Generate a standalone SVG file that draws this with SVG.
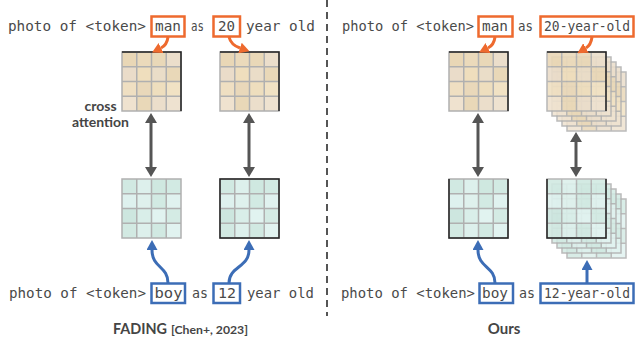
<svg xmlns="http://www.w3.org/2000/svg" xmlns:xlink="http://www.w3.org/1999/xlink" width="636" height="339" viewBox="0 0 636 339">
<style>
.mono{font-family:"DejaVu Sans Mono","Liberation Mono",monospace;font-size:14.5px;fill:#4a4a4a}
.mono2{font-family:"DejaVu Sans Mono","Liberation Mono",monospace;font-size:13.2px;fill:#4a4a4a}
.lbl{font-family:Lato,"Open Sans","Liberation Sans",sans-serif;font-weight:bold;fill:#454545}
.obox{fill:none;stroke:#EE6A2E;stroke-width:2.5}
.bbox{fill:none;stroke:#3C6DB6;stroke-width:2.5}
.oarr{fill:none;stroke:#EE6A2E;stroke-width:3}
.barr{fill:none;stroke:#3C6DB6;stroke-width:3}
.darr{fill:none;stroke:#555;stroke-width:3}
.gl{stroke:#b0b0b0;stroke-width:1.5;fill:none}
.dk{stroke:#222;stroke-width:1.5;fill:none}
</style>
<defs>
<marker id="mo" viewBox="0 0 10 11" refX="0" refY="5.5" markerWidth="10" markerHeight="11" markerUnits="userSpaceOnUse" orient="auto"><path d="M0,0 L10,5.5 L0,11 z" fill="#EE6A2E"/></marker>
<marker id="mb" viewBox="0 0 10 11" refX="0" refY="5.5" markerWidth="10" markerHeight="11" markerUnits="userSpaceOnUse" orient="auto"><path d="M0,0 L10,5.5 L0,11 z" fill="#3C6DB6"/></marker>
<marker id="md" viewBox="0 0 10 12" refX="0" refY="6" markerWidth="10" markerHeight="12" markerUnits="userSpaceOnUse" orient="auto-start-reverse"><path d="M0,0 L10,6 L0,12 z" fill="#555"/></marker>
<g id="beigeCells">
<rect x="0" y="0" width="14.75" height="14.75" fill="#E9D7B6"/><rect x="14.75" y="0" width="14.75" height="14.75" fill="#EBDABB"/><rect x="29.5" y="0" width="14.75" height="14.75" fill="#E9D8B8"/><rect x="44.25" y="0" width="14.75" height="14.75" fill="#EBDECB"/>
<rect x="0" y="14.75" width="14.75" height="14.75" fill="#EADCC9"/><rect x="14.75" y="14.75" width="14.75" height="14.75" fill="#EFDEBD"/><rect x="29.5" y="14.75" width="14.75" height="14.75" fill="#EADDC8"/><rect x="44.25" y="14.75" width="14.75" height="14.75" fill="#E9D8B8"/>
<rect x="0" y="29.5" width="14.75" height="14.75" fill="#EFDFC2"/><rect x="14.75" y="29.5" width="14.75" height="14.75" fill="#E9D8BA"/><rect x="29.5" y="29.5" width="14.75" height="14.75" fill="#EEDEBE"/><rect x="44.25" y="29.5" width="14.75" height="14.75" fill="#F1E2C4"/>
<rect x="0" y="44.25" width="14.75" height="14.75" fill="#EFE2CF"/><rect x="14.75" y="44.25" width="14.75" height="14.75" fill="#E9D8B8"/><rect x="29.5" y="44.25" width="14.75" height="14.75" fill="#EBDECB"/><rect x="44.25" y="44.25" width="14.75" height="14.75" fill="#EEE2D0"/>
</g>
<g id="mintCells">
<rect x="0" y="0" width="14.75" height="14.75" fill="#D1E9E2"/><rect x="14.75" y="0" width="14.75" height="14.75" fill="#DDF0EC"/><rect x="29.5" y="0" width="14.75" height="14.75" fill="#CFE8E0"/><rect x="44.25" y="0" width="14.75" height="14.75" fill="#D2EAE3"/>
<rect x="0" y="14.75" width="14.75" height="14.75" fill="#DEF1EE"/><rect x="14.75" y="14.75" width="14.75" height="14.75" fill="#DFF1ED"/><rect x="29.5" y="14.75" width="14.75" height="14.75" fill="#D2EAE3"/><rect x="44.25" y="14.75" width="14.75" height="14.75" fill="#E0F2EF"/>
<rect x="0" y="29.5" width="14.75" height="14.75" fill="#CDE6DF"/><rect x="14.75" y="29.5" width="14.75" height="14.75" fill="#D9EEE9"/><rect x="29.5" y="29.5" width="14.75" height="14.75" fill="#E1F3F0"/><rect x="44.25" y="29.5" width="14.75" height="14.75" fill="#D4EBE4"/>
<rect x="0" y="44.25" width="14.75" height="14.75" fill="#D2E9E2"/><rect x="14.75" y="44.25" width="14.75" height="14.75" fill="#DDF0EC"/><rect x="29.5" y="44.25" width="14.75" height="14.75" fill="#D1E9E2"/><rect x="44.25" y="44.25" width="14.75" height="14.75" fill="#E1F3F0"/>
</g>
<path id="lines" class="gl" d="M14.75,0 V59 M29.5,0 V59 M44.25,0 V59 M0,14.75 H59 M0,29.5 H59 M0,44.25 H59 M0,0 H59 V59 H0 Z"/>
<g id="beige"><use href="#beigeCells"/><use href="#lines"/></g>
<g id="mint"><use href="#mintCells"/><use href="#lines"/></g>
<path id="tr" class="dk" d="M0,0 H59 V59"/>
<path id="box" class="dk" d="M0,0 H59 V59 H0 Z"/>
<path id="lbr" class="dk" d="M0,0 V59 H59 V0"/>
</defs>

<!-- divider -->
<line x1="327" y1="0" x2="327" y2="316" stroke="#555" stroke-width="2" stroke-dasharray="7 5"/>

<!-- text rows -->
<g id="prompt-top-left">
<text class="mono" x="8" y="31" textLength="138" lengthAdjust="spacingAndGlyphs">photo of &lt;token&gt;</text>
<rect class="obox" x="151.5" y="16.5" width="33" height="20"/>
<text class="mono" x="155" y="31" textLength="26" lengthAdjust="spacingAndGlyphs">man</text>
<text class="mono" x="191" y="31" textLength="13" lengthAdjust="spacingAndGlyphs">as</text>
<rect class="obox" x="213.5" y="16.5" width="26.5" height="20"/>
<text class="mono" x="218" y="31" textLength="17" lengthAdjust="spacingAndGlyphs">20</text>
<text class="mono" x="246" y="31" textLength="69" lengthAdjust="spacingAndGlyphs">year old</text>
</g>
<g id="prompt-top-right">
<text class="mono" x="342" y="31" textLength="132" lengthAdjust="spacingAndGlyphs">photo of &lt;token&gt;</text>
<rect class="obox" x="478.5" y="16.5" width="34" height="20"/>
<text class="mono" x="482" y="31" textLength="26" lengthAdjust="spacingAndGlyphs">man</text>
<text class="mono" x="518" y="31" textLength="15" lengthAdjust="spacingAndGlyphs">as</text>
<rect class="obox" x="540.5" y="16.5" width="93" height="20"/>
<text class="mono2" x="544" y="31" textLength="86" lengthAdjust="spacingAndGlyphs">20-year-old</text>
</g>
<g id="prompt-bottom-left">
<text class="mono" x="9" y="298" textLength="137" lengthAdjust="spacingAndGlyphs">photo of &lt;token&gt;</text>
<rect class="bbox" x="151.5" y="283.5" width="33.5" height="19.5"/>
<text class="mono" x="154.5" y="298" textLength="28" lengthAdjust="spacingAndGlyphs">boy</text>
<text class="mono" x="192" y="298" textLength="16" lengthAdjust="spacingAndGlyphs">as</text>
<rect class="bbox" x="213.5" y="283.5" width="26.5" height="19.5"/>
<text class="mono" x="218" y="298" textLength="18" lengthAdjust="spacingAndGlyphs">12</text>
<text class="mono" x="247" y="298" textLength="67" lengthAdjust="spacingAndGlyphs">year old</text>
</g>
<g id="prompt-bottom-right">
<text class="mono" x="341" y="298" textLength="134" lengthAdjust="spacingAndGlyphs">photo of &lt;token&gt;</text>
<rect class="bbox" x="479.5" y="283.5" width="33.5" height="19.5"/>
<text class="mono" x="482" y="298" textLength="26" lengthAdjust="spacingAndGlyphs">boy</text>
<text class="mono" x="519" y="298" textLength="16" lengthAdjust="spacingAndGlyphs">as</text>
<rect class="bbox" x="540.5" y="283.5" width="93" height="19.5"/>
<text class="mono2" x="544" y="298" textLength="86" lengthAdjust="spacingAndGlyphs">12-year-old</text>
</g>

<!-- grids -->
<g id="grid-fading-man"><use href="#beige" x="122" y="52"/><use href="#tr" x="122" y="52"/></g>
<g id="grid-fading-20"><use href="#beige" x="220" y="52"/><use href="#tr" x="220" y="52"/></g>
<g id="grid-fading-boy"><use href="#mint" x="122" y="179"/></g>
<g id="grid-fading-12"><use href="#mint" x="220" y="179"/><use href="#box" x="220" y="179"/></g>
<g id="grid-ours-man"><use href="#beige" x="449" y="52"/><use href="#tr" x="449" y="52"/></g>
<g id="grid-ours-boy"><use href="#mint" x="449" y="179"/><use href="#lbr" x="449" y="179"/></g>
<g id="grid-ours-20-stack">
<use href="#beige" x="567" y="72" opacity="0.85"/>
<use href="#beige" x="562" y="67" opacity="0.85"/>
<use href="#beige" x="557" y="62" opacity="0.85"/>
<use href="#beige" x="552" y="57" opacity="0.85"/>
<use href="#beige" x="547" y="52" opacity="0.9"/>
<use href="#tr" x="547" y="52"/>
</g>
<g id="grid-ours-12-stack">
<use href="#mint" x="567" y="199" opacity="0.85"/>
<use href="#mint" x="562" y="194" opacity="0.85"/>
<use href="#mint" x="557" y="189" opacity="0.85"/>
<use href="#mint" x="552" y="184" opacity="0.85"/>
<use href="#mint" x="547" y="179" opacity="0.9"/>
<use href="#lbr" x="547" y="179"/>
</g>

<!-- labels -->
<g id="label-cross-attention">
<text class="lbl" x="100.5" y="111" font-size="14" text-anchor="middle">cross</text>
<text class="lbl" x="100.5" y="127" font-size="14" text-anchor="middle">attention</text>
</g>
<g id="label-fading">
<text class="lbl" x="113" y="334" font-size="15" textLength="54" lengthAdjust="spacingAndGlyphs">FADING</text>
<text class="lbl" x="171" y="334" font-size="11" textLength="77" lengthAdjust="spacingAndGlyphs">[Chen+, 2023]</text>
</g>
<g id="label-ours">
<text class="lbl" x="504" y="334" font-size="15" text-anchor="middle">Ours</text>
</g>

<!-- connectors -->
<g id="connectors">
<path class="oarr" d="M168,37 Q167,45 161,48" marker-end="url(#mo)"/>
<path class="oarr" d="M229,37 Q231,45 240,48" marker-end="url(#mo)"/>
<path class="oarr" d="M495,37 Q494,45 488,48" marker-end="url(#mo)"/>
<path class="oarr" d="M592,37 Q591,45 586,48" marker-end="url(#mo)"/>
<path class="barr" d="M168,283 C168,266 152,268 152,250" marker-end="url(#mb)"/>
<path class="barr" d="M229,283 C229,266 249,268 249,250" marker-end="url(#mb)"/>
<path class="barr" d="M495,283 C495,266 478,268 478,250" marker-end="url(#mb)"/>
<path class="barr" d="M587,283 L587,270" marker-end="url(#mb)"/>
<path class="darr" d="M151,123 V167" marker-start="url(#md)" marker-end="url(#md)"/>
<path class="darr" d="M249,123 V167" marker-start="url(#md)" marker-end="url(#md)"/>
<path class="darr" d="M478,123 V167" marker-start="url(#md)" marker-end="url(#md)"/>
<path class="darr" d="M576,142 V167" marker-start="url(#md)" marker-end="url(#md)"/>
</g>
</svg>
